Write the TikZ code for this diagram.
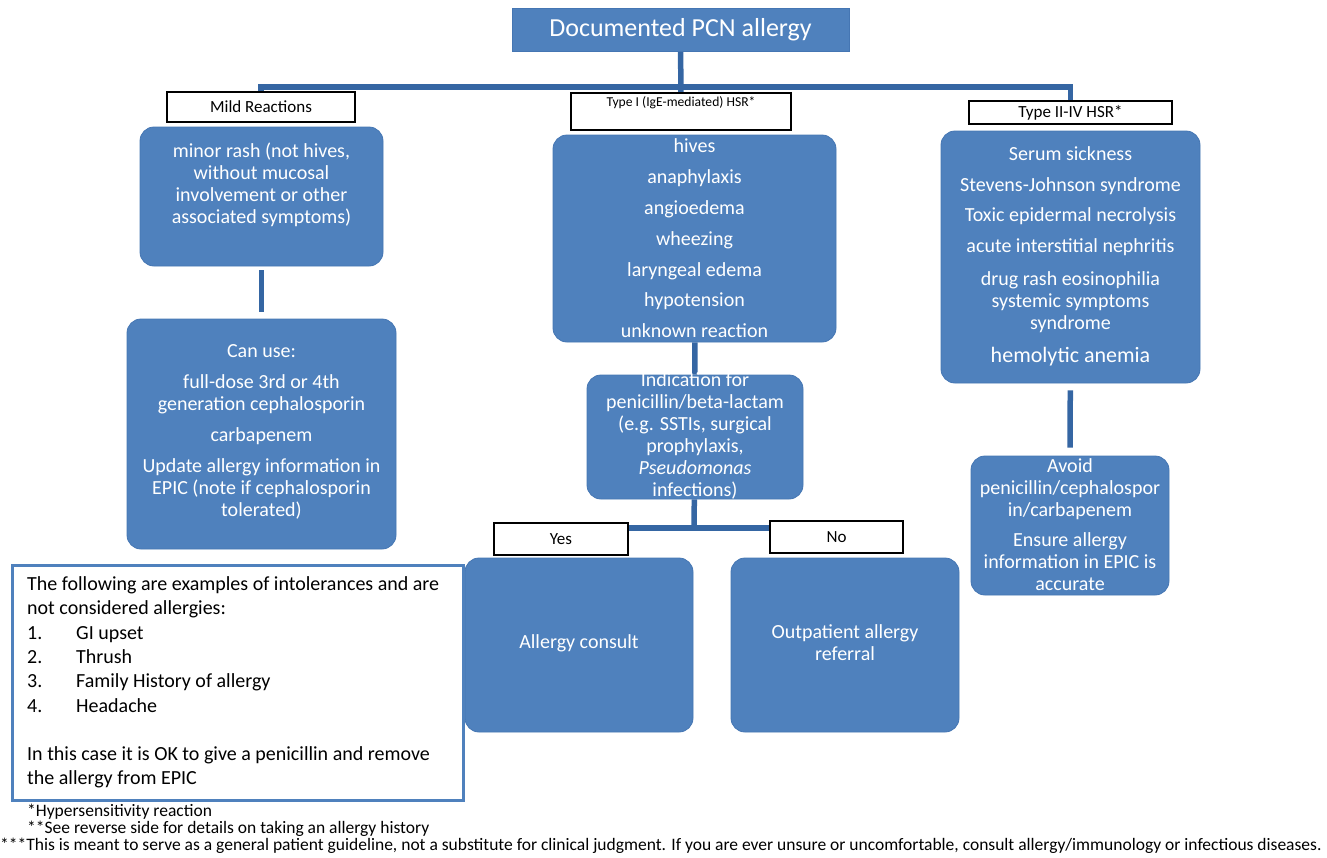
\documentclass[tikz,border=0pt]{standalone}
\usepackage{fontspec}
\setmainfont{Carlito}
\usetikzlibrary{backgrounds}
\definecolor{boxblue}{HTML}{4F81BD}
\definecolor{edgeblue}{HTML}{4576B3}
\definecolor{linkblue}{HTML}{3566A3}
\begin{document}
\begin{tikzpicture}[x=1pt,y=-1pt,
  bluebox/.style={fill=boxblue, draw=edgeblue, line width=0.8pt, rounded corners=14pt, inner sep=0pt},
  bluetext/.style={text=white, align=center, inner sep=0pt, font=\fontsize{20}{22}\selectfont},
  titlebox/.style={fill=boxblue, draw=edgeblue, line width=0.8pt, text=white, inner sep=0pt, font=\fontsize{26}{30}\selectfont},
  labbox/.style={fill=white, draw=black, line width=1.1pt, inner sep=0pt, font=\fontsize{17}{19}\selectfont},
  conn/.style={draw=linkblue, line width=5.5pt},
  note/.style={inner sep=0pt, anchor=west, font=\fontsize{17.5}{19}\selectfont},
  listtext/.style={inner sep=0pt, anchor=west, align=left, font=\fontsize{20}{24.3}\selectfont}
]
\useasboundingbox (0,0) rectangle (1327,857);

% title
\node[titlebox, minimum width=337pt, minimum height=43pt] (title) at (680.5,29.5) {Documented PCN allergy};
\coordinate (hub) at (680,87);

% category labels
\node[labbox, minimum width=188pt, minimum height=30pt] (mildlab) at (261,107) {Mild Reactions};
\node[labbox, minimum width=220pt, minimum height=37pt, font=\fontsize{13.6}{16}\selectfont] (t1lab) at (681,111.5) {};
\node[inner sep=0pt, font=\fontsize{13.6}{16}\selectfont] (t1labtext) at (681,103) {Type I (IgE-mediated) HSR*};
\node[labbox, minimum width=203pt, minimum height=23pt] (t2lab) at (1070.5,112.5) {Type II-IV HSR*};

% mild column
\node[bluebox, minimum width=243pt, minimum height=139pt] (mild) at (261.5,196.5) {};
\node[bluetext] (mildtext) at (261.5,185) {minor rash (not hives,\\ without mucosal\\ involvement or other\\ associated symptoms)};
\node[bluebox, minimum width=269pt, minimum height=230pt] (canuse) at (261.5,434) {};
\node[bluetext] (canusetext) at (261.5,432) {Can use:\\[9pt] full-dose 3rd or 4th\\ generation cephalosporin\\[9pt] carbapenem\\[9pt] Update allergy information in\\ EPIC (note if cephalosporin\\ tolerated)};

% type I column
\node[bluebox, minimum width=283pt, minimum height=207pt] (t1) at (694.5,238.5) {};
\node[bluetext] (t1text) at (694.5,238.5) {hives\\[8.8pt] anaphylaxis\\[8.8pt] angioedema\\[8.8pt] wheezing\\[8.8pt] laryngeal edema\\[8.8pt] hypotension\\[8.8pt] unknown reaction};
\node[bluebox, minimum width=216pt, minimum height=124pt] (indic) at (695,437) {};
\node[bluetext] (indictext) at (695,436) {Indication for\\ penicillin/beta-lactam\\ (e.g. SSTIs, surgical\\ prophylaxis,\\ \textit{Pseudomonas}\\ infections)};
\coordinate (yn) at (694,528);
\node[labbox, minimum width=134pt, minimum height=32pt] (yeslab) at (561,539) {Yes};
\node[labbox, minimum width=133pt, minimum height=32pt] (nolab) at (836.5,537) {No};
\node[bluebox, minimum width=228pt, minimum height=174pt] (consult) at (579,645) {};
\node[bluetext] (consulttext) at (579,643) {Allergy consult};
\node[bluebox, minimum width=228pt, minimum height=174pt] (outpt) at (845,645) {};
\node[bluetext] (outpttext) at (845,643) {Outpatient allergy\\ referral};

% type II-IV column
\node[bluebox, minimum width=259pt, minimum height=252pt] (t2) at (1070.5,257) {};
\node[bluetext] (t2text) at (1070.5,256.5) {Serum sickness\\[9pt] Stevens-Johnson syndrome\\[8.5pt] Toxic epidermal necrolysis\\[9pt] acute interstitial nephritis\\[11pt] drug rash eosinophilia\\ systemic symptoms\\ syndrome\\[11pt] {\fontsize{22}{24}\selectfont hemolytic anemia}};
\node[bluebox, minimum width=198pt, minimum height=139pt] (avoid) at (1070,525.5) {};
\node[bluetext] (avoidtext) at (1070,525) {Avoid\\ penicillin/cephalospor\\ in/carbapenem\\[8pt] Ensure allergy\\ information in EPIC is\\ accurate};

% intolerance box
\node[draw=boxblue, line width=3pt, fill=white, minimum width=451pt, minimum height=235pt, inner sep=0pt] (intol) at (237.5,683) {};
\node[listtext] (intoltext) at (27,682.5) {The following are examples of intolerances and are\\
not considered allergies:\\
\makebox[49pt][l]{1.}GI upset\\
\makebox[49pt][l]{2.}Thrush\\
\makebox[49pt][l]{3.}Family History of allergy\\
\makebox[49pt][l]{4.}Headache\\[24.3pt]
In this case it is OK to give a penicillin and remove\\
the allergy from EPIC};

% footnotes
\node[note] (fn1) at (27,812) {*Hypersensitivity reaction};
\node[note] (fn2) at (27,829) {**See reverse side for details on taking an allergy history};
\node[note] (fn3) at (0,846) {***This is meant to serve as a general patient guideline, not a substitute for clinical judgment. If you are ever unsure or uncomfortable, consult allergy/immunology or infectious diseases.};

% connectors
\begin{pgfonlayer}{background}
\draw[conn] (title) -- (t1lab);
\draw[conn] (mildlab) |- (hub) -| (t2lab);
\draw[conn, shorten <=4pt, shorten >=7pt] (mild) -- (canuse);
\draw[conn] (t1) -- (indic);
\draw[conn] (indic) -- (yn);
\draw[conn] (yeslab.center |- yn) -- (nolab.center |- yn);
\draw[conn, shorten <=7pt, shorten >=8pt] (t2) -- (avoid);
\end{pgfonlayer}
\end{tikzpicture}
\end{document}
